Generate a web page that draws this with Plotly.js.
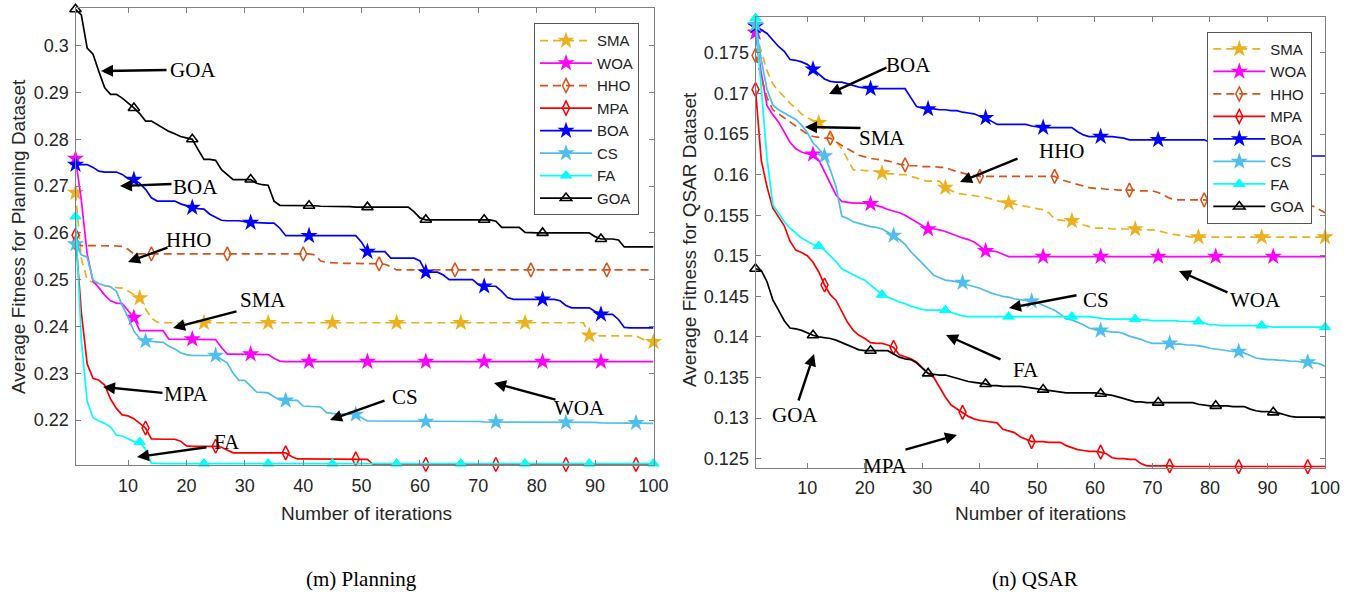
<!DOCTYPE html>
<html><head><meta charset="utf-8">
<script src="https://cdn.plot.ly/plotly-3.0.1.min.js"></script>
<style>html,body{margin:0;padding:0;background:#fff}#chart{width:1358px;height:596px}</style>
</head><body><div id="chart"></div>
<script>
// ---------------- DATA ----------------
const algorithms = ['SMA','WOA','HHO','MPA','BOA','CS','FA','GOA'];
const iterations = [1,2,3,4,5,6,7,8,9,10,11,12,13,14,15,16,17,18,19,20,21,22,23,24,25,26,27,28,29,30,31,32,33,34,35,36,37,38,39,40,41,42,43,44,45,46,47,48,49,50,51,52,53,54,55,56,57,58,59,60,61,62,63,64,65,66,67,68,69,70,71,72,73,74,75,76,77,78,79,80,81,82,83,84,85,86,87,88,89,90,91,92,93,94,95,96,97,98,99,100];
const xTickVals = [10,20,30,40,50,60,70,80,90,100];
const planningTickVals = [0.22,0.23,0.24,0.25,0.26,0.27,0.28,0.29,0.3];
const planningTickText = ['0.22','0.23','0.24','0.25','0.26','0.27','0.28','0.29','0.3'];
const qsarTickVals = [0.125,0.13,0.135,0.14,0.145,0.15,0.155,0.16,0.165,0.17,0.175];
const qsarTickText = ['0.125','0.13','0.135','0.14','0.145','0.15','0.155','0.16','0.165','0.17','0.175'];

// (m) Planning
const planningSMA = [
0.2686,0.2545,0.2500,0.2494,0.2490,0.2487,0.2485,0.2483,0.2482,0.2476,
0.2468,0.2461,0.2438,0.2418,0.2409,0.2408,0.2408,0.2408,0.2408,0.2408,
0.2408,0.2408,0.2408,0.2408,0.2408,0.2408,0.2408,0.2408,0.2408,0.2408,
0.2408,0.2408,0.2408,0.2408,0.2408,0.2408,0.2408,0.2408,0.2408,0.2408,
0.2408,0.2408,0.2408,0.2408,0.2408,0.2408,0.2408,0.2408,0.2408,0.2408,
0.2408,0.2408,0.2408,0.2408,0.2408,0.2408,0.2408,0.2408,0.2408,0.2408,
0.2408,0.2408,0.2408,0.2408,0.2408,0.2408,0.2408,0.2408,0.2408,0.2408,
0.2408,0.2408,0.2408,0.2408,0.2408,0.2408,0.2408,0.2408,0.2408,0.2408,
0.2408,0.2408,0.2408,0.2408,0.2408,0.2408,0.2408,0.2408,0.2381,0.2380,
0.2380,0.2380,0.2380,0.2380,0.2380,0.2380,0.2380,0.2374,0.2369,0.2367];
const planningWOA = [
0.2759,0.2670,0.2555,0.2497,0.2483,0.2467,0.2455,0.2450,0.2449,0.2433,
0.2419,0.2391,0.2391,0.2391,0.2391,0.2391,0.2373,0.2373,0.2373,0.2373,
0.2373,0.2373,0.2372,0.2372,0.2372,0.2355,0.2341,0.2341,0.2341,0.2341,
0.2341,0.2341,0.2340,0.2340,0.2332,0.2326,0.2325,0.2325,0.2325,0.2325,
0.2325,0.2325,0.2325,0.2325,0.2325,0.2325,0.2325,0.2325,0.2325,0.2325,
0.2325,0.2325,0.2325,0.2325,0.2325,0.2325,0.2325,0.2325,0.2325,0.2325,
0.2325,0.2325,0.2325,0.2325,0.2325,0.2325,0.2325,0.2325,0.2325,0.2325,
0.2325,0.2325,0.2325,0.2325,0.2325,0.2325,0.2325,0.2325,0.2325,0.2325,
0.2325,0.2325,0.2325,0.2325,0.2325,0.2325,0.2325,0.2325,0.2325,0.2325,
0.2325,0.2325,0.2325,0.2325,0.2325,0.2325,0.2325,0.2325,0.2325,0.2325];
const planningHHO = [
0.2578,0.2573,0.2573,0.2573,0.2573,0.2572,0.2572,0.2572,0.2571,0.2565,
0.2555,0.2555,0.2555,0.2555,0.2555,0.2555,0.2555,0.2555,0.2555,0.2555,
0.2555,0.2555,0.2555,0.2555,0.2555,0.2555,0.2555,0.2555,0.2555,0.2555,
0.2555,0.2555,0.2555,0.2555,0.2555,0.2555,0.2555,0.2555,0.2555,0.2555,
0.2555,0.2553,0.2540,0.2537,0.2536,0.2536,0.2535,0.2535,0.2535,0.2534,
0.2534,0.2534,0.2534,0.2533,0.2528,0.2521,0.2521,0.2521,0.2521,0.2521,
0.2521,0.2521,0.2521,0.2521,0.2521,0.2521,0.2521,0.2521,0.2521,0.2521,
0.2521,0.2521,0.2521,0.2521,0.2521,0.2521,0.2521,0.2521,0.2521,0.2521,
0.2521,0.2521,0.2521,0.2521,0.2521,0.2521,0.2521,0.2521,0.2521,0.2521,
0.2521,0.2521,0.2521,0.2521,0.2521,0.2521,0.2521,0.2521,0.2521,0.2521];
const planningMPA = [
0.2595,0.2430,0.2320,0.2289,0.2285,0.2275,0.2245,0.2225,0.2211,0.2209,
0.2203,0.2194,0.2183,0.2160,0.2159,0.2159,0.2159,0.2159,0.2155,0.2145,
0.2144,0.2144,0.2144,0.2144,0.2144,0.2142,0.2136,0.2130,0.2130,0.2130,
0.2130,0.2130,0.2130,0.2130,0.2130,0.2130,0.2130,0.2122,0.2117,0.2117,
0.2117,0.2117,0.2117,0.2117,0.2117,0.2117,0.2117,0.2117,0.2117,0.2117,
0.2116,0.2105,0.2105,0.2105,0.2105,0.2105,0.2105,0.2105,0.2105,0.2105,
0.2105,0.2105,0.2105,0.2105,0.2105,0.2105,0.2105,0.2105,0.2105,0.2105,
0.2105,0.2105,0.2105,0.2105,0.2105,0.2105,0.2105,0.2105,0.2105,0.2105,
0.2105,0.2105,0.2105,0.2105,0.2105,0.2105,0.2105,0.2105,0.2105,0.2105,
0.2105,0.2105,0.2105,0.2105,0.2105,0.2105,0.2105,0.2105,0.2105,0.2105];
const planningBOA = [
0.2746,0.2746,0.2746,0.2740,0.2732,0.2730,0.2730,0.2730,0.2725,0.2716,
0.2714,0.2706,0.2693,0.2675,0.2668,0.2668,0.2668,0.2668,0.2662,0.2658,
0.2654,0.2652,0.2651,0.2640,0.2633,0.2627,0.2626,0.2626,0.2626,0.2624,
0.2622,0.2622,0.2621,0.2621,0.2621,0.2610,0.2594,0.2594,0.2594,0.2594,
0.2594,0.2594,0.2594,0.2594,0.2594,0.2594,0.2594,0.2594,0.2594,0.2580,
0.2560,0.2560,0.2560,0.2560,0.2546,0.2546,0.2546,0.2546,0.2546,0.2540,
0.2516,0.2516,0.2516,0.2510,0.2500,0.2500,0.2500,0.2500,0.2500,0.2490,
0.2486,0.2486,0.2486,0.2475,0.2462,0.2458,0.2458,0.2458,0.2458,0.2458,
0.2458,0.2458,0.2458,0.2455,0.2445,0.2440,0.2440,0.2440,0.2440,0.2432,
0.2426,0.2426,0.2426,0.2415,0.2398,0.2397,0.2397,0.2397,0.2397,0.2397];
const planningCS = [
0.2576,0.2553,0.2548,0.2499,0.2492,0.2487,0.2485,0.2475,0.2445,0.2420,
0.2390,0.2375,0.2369,0.2368,0.2367,0.2366,0.2358,0.2352,0.2344,0.2340,
0.2338,0.2338,0.2338,0.2338,0.2338,0.2330,0.2322,0.2300,0.2285,0.2285,
0.2272,0.2260,0.2259,0.2258,0.2250,0.2243,0.2242,0.2242,0.2242,0.2230,
0.2229,0.2228,0.2228,0.2216,0.2214,0.2213,0.2213,0.2213,0.2212,0.2205,
0.2198,0.2198,0.2198,0.2197,0.2197,0.2197,0.2197,0.2197,0.2197,0.2197,
0.2197,0.2197,0.2197,0.2197,0.2197,0.2197,0.2197,0.2197,0.2197,0.2197,
0.2196,0.2196,0.2196,0.2196,0.2196,0.2196,0.2196,0.2196,0.2196,0.2196,
0.2195,0.2195,0.2195,0.2195,0.2195,0.2195,0.2195,0.2195,0.2195,0.2195,
0.2194,0.2194,0.2194,0.2194,0.2194,0.2194,0.2194,0.2194,0.2194,0.2193];
const planningFA = [
0.2635,0.2370,0.2240,0.2205,0.2198,0.2193,0.2185,0.2168,0.2166,0.2160,
0.2154,0.2153,0.2138,0.2108,0.2107,0.2107,0.2107,0.2107,0.2107,0.2107,
0.2107,0.2107,0.2107,0.2107,0.2107,0.2107,0.2107,0.2107,0.2107,0.2107,
0.2107,0.2107,0.2107,0.2107,0.2107,0.2107,0.2107,0.2107,0.2107,0.2107,
0.2107,0.2107,0.2107,0.2107,0.2107,0.2107,0.2107,0.2107,0.2107,0.2107,
0.2107,0.2107,0.2107,0.2107,0.2107,0.2107,0.2107,0.2107,0.2107,0.2107,
0.2107,0.2107,0.2107,0.2107,0.2107,0.2107,0.2107,0.2107,0.2107,0.2107,
0.2107,0.2107,0.2107,0.2107,0.2107,0.2107,0.2107,0.2107,0.2107,0.2107,
0.2107,0.2107,0.2107,0.2107,0.2107,0.2107,0.2107,0.2107,0.2107,0.2107,
0.2107,0.2107,0.2107,0.2107,0.2107,0.2107,0.2107,0.2107,0.2107,0.2107];
const planningGOA = [
0.3078,0.3066,0.2995,0.2982,0.2945,0.2910,0.2896,0.2896,0.2888,0.2878,
0.2867,0.2855,0.2839,0.2839,0.2832,0.2824,0.2817,0.2812,0.2806,0.2803,
0.2800,0.2778,0.2757,0.2757,0.2755,0.2735,0.2725,0.2714,0.2714,0.2714,
0.2714,0.2706,0.2703,0.2702,0.2668,0.2659,0.2659,0.2658,0.2658,0.2658,
0.2658,0.2658,0.2657,0.2657,0.2657,0.2656,0.2656,0.2656,0.2655,0.2655,
0.2655,0.2655,0.2655,0.2655,0.2655,0.2655,0.2655,0.2655,0.2645,0.2632,
0.2628,0.2628,0.2628,0.2628,0.2628,0.2628,0.2628,0.2628,0.2628,0.2628,
0.2628,0.2628,0.2625,0.2612,0.2612,0.2612,0.2612,0.2601,0.2600,0.2600,
0.2600,0.2600,0.2600,0.2600,0.2600,0.2600,0.2600,0.2600,0.2600,0.2592,
0.2587,0.2587,0.2587,0.2585,0.2570,0.2570,0.2570,0.2570,0.2570,0.2570];

// (n) QSAR
const qsarSMA = [
0.1776,0.1752,0.1728,0.1712,0.1703,0.1696,0.1688,0.1682,0.1675,0.1670,
0.1667,0.1664,0.1658,0.1650,0.1641,0.1632,0.1618,0.1606,0.1606,0.1605,
0.1605,0.1604,0.1602,0.1601,0.1601,0.1600,0.1600,0.1598,0.1596,0.1593,
0.1592,0.1592,0.1592,0.1584,0.1580,0.1577,0.1576,0.1575,0.1574,0.1573,
0.1572,0.1570,0.1568,0.1566,0.1565,0.1564,0.1562,0.1561,0.1559,0.1558,
0.1557,0.1553,0.1545,0.1544,0.1543,0.1543,0.1541,0.1538,0.1536,0.1534,
0.1534,0.1534,0.1533,0.1533,0.1533,0.1533,0.1533,0.1532,0.1532,0.1532,
0.1531,0.1529,0.1527,0.1526,0.1525,0.1524,0.1523,0.1523,0.1523,0.1523,
0.1523,0.1523,0.1523,0.1523,0.1523,0.1523,0.1523,0.1523,0.1523,0.1523,
0.1523,0.1523,0.1523,0.1523,0.1523,0.1523,0.1523,0.1523,0.1523,0.1523];
const qsarWOA = [
0.1775,0.1725,0.1685,0.1674,0.1665,0.1652,0.1640,0.1632,0.1628,0.1626,
0.1625,0.1618,0.1603,0.1590,0.1575,0.1567,0.1566,0.1565,0.1565,0.1565,
0.1564,0.1562,0.1560,0.1557,0.1555,0.1553,0.1550,0.1546,0.1542,0.1537,
0.1533,0.1533,0.1532,0.1530,0.1527,0.1524,0.1522,0.1520,0.1517,0.1512,
0.1506,0.1506,0.1505,0.1502,0.1499,0.1499,0.1499,0.1499,0.1499,0.1499,
0.1499,0.1499,0.1499,0.1499,0.1499,0.1499,0.1499,0.1499,0.1499,0.1499,
0.1499,0.1499,0.1499,0.1499,0.1499,0.1499,0.1499,0.1499,0.1499,0.1499,
0.1499,0.1499,0.1499,0.1499,0.1499,0.1499,0.1499,0.1499,0.1499,0.1499,
0.1499,0.1499,0.1499,0.1499,0.1499,0.1499,0.1499,0.1499,0.1499,0.1499,
0.1499,0.1499,0.1499,0.1499,0.1499,0.1499,0.1499,0.1499,0.1499,0.1499];
const qsarHHO = [
0.1747,0.1722,0.1695,0.1680,0.1675,0.1670,0.1665,0.1661,0.1656,0.1650,
0.1647,0.1646,0.1645,0.1645,0.1640,0.1636,0.1632,0.1628,0.1624,0.1622,
0.1620,0.1619,0.1618,0.1617,0.1615,0.1613,0.1612,0.1611,0.1611,0.1610,
0.1610,0.1610,0.1609,0.1609,0.1606,0.1604,0.1602,0.1600,0.1599,0.1598,
0.1598,0.1598,0.1598,0.1598,0.1598,0.1598,0.1598,0.1598,0.1598,0.1598,
0.1598,0.1598,0.1598,0.1594,0.1592,0.1590,0.1588,0.1586,0.1584,0.1583,
0.1583,0.1582,0.1582,0.1581,0.1581,0.1581,0.1581,0.1580,0.1580,0.1580,
0.1578,0.1574,0.1571,0.1569,0.1569,0.1569,0.1569,0.1569,0.1569,0.1568,
0.1568,0.1568,0.1568,0.1568,0.1568,0.1568,0.1568,0.1568,0.1568,0.1568,
0.1567,0.1567,0.1566,0.1565,0.1564,0.1563,0.1562,0.1561,0.1557,0.1553];
const qsarMPA = [
0.1705,0.1618,0.1585,0.1559,0.1548,0.1537,0.1518,0.1507,0.1504,0.1500,
0.1492,0.1480,0.1464,0.1452,0.1445,0.1432,0.1418,0.1408,0.1402,0.1398,
0.1393,0.1392,0.1392,0.1390,0.1387,0.1378,0.1375,0.1373,0.1369,0.1362,
0.1355,0.1350,0.1338,0.1326,0.1316,0.1311,0.1307,0.1302,0.1299,0.1297,
0.1296,0.1295,0.1294,0.1286,0.1284,0.1282,0.1277,0.1274,0.1271,0.1271,
0.1271,0.1270,0.1270,0.1270,0.1266,0.1263,0.1261,0.1260,0.1259,0.1259,
0.1258,0.1256,0.1251,0.1250,0.1250,0.1249,0.1249,0.1244,0.1241,0.1241,
0.1241,0.1241,0.1241,0.1240,0.1240,0.1240,0.1240,0.1240,0.1240,0.1240,
0.1240,0.1240,0.1240,0.1240,0.1240,0.1240,0.1240,0.1240,0.1240,0.1240,
0.1240,0.1240,0.1240,0.1240,0.1240,0.1240,0.1240,0.1240,0.1240,0.1240];
const qsarBOA = [
0.1783,0.1779,0.1774,0.1766,0.1758,0.1752,0.1742,0.1741,0.1739,0.1736,
0.1730,0.1724,0.1718,0.1715,0.1714,0.1714,0.1712,0.1710,0.1708,0.1707,
0.1706,0.1706,0.1706,0.1706,0.1706,0.1706,0.1706,0.1695,0.1684,0.1682,
0.1681,0.1681,0.1680,0.1680,0.1679,0.1679,0.1677,0.1676,0.1675,0.1672,
0.1670,0.1666,0.1662,0.1662,0.1662,0.1662,0.1662,0.1662,0.1660,0.1659,
0.1658,0.1658,0.1658,0.1658,0.1658,0.1658,0.1653,0.1649,0.1647,0.1647,
0.1647,0.1647,0.1647,0.1646,0.1645,0.1643,0.1643,0.1643,0.1643,0.1643,
0.1643,0.1643,0.1643,0.1643,0.1643,0.1643,0.1643,0.1643,0.1643,0.1640,
0.1636,0.1635,0.1633,0.1632,0.1630,0.1628,0.1627,0.1626,0.1625,0.1625,
0.1625,0.1624,0.1624,0.1624,0.1623,0.1623,0.1623,0.1623,0.1623,0.1623];
const qsarCS = [
0.1785,0.1742,0.1705,0.1686,0.1680,0.1676,0.1672,0.1668,0.1661,0.1652,
0.1639,0.1632,0.1623,0.1606,0.1585,0.1549,0.1546,0.1542,0.1540,0.1538,
0.1536,0.1535,0.1533,0.1529,0.1525,0.1520,0.1514,0.1505,0.1498,0.1491,
0.1483,0.1476,0.1473,0.1470,0.1469,0.1468,0.1467,0.1464,0.1462,0.1460,
0.1457,0.1454,0.1452,0.1450,0.1449,0.1447,0.1446,0.1445,0.1444,0.1442,
0.1439,0.1436,0.1433,0.1428,0.1422,0.1421,0.1418,0.1415,0.1411,0.1409,
0.1408,0.1407,0.1406,0.1406,0.1404,0.1401,0.1399,0.1397,0.1394,0.1392,
0.1392,0.1392,0.1392,0.1391,0.1391,0.1390,0.1390,0.1389,0.1388,0.1386,
0.1385,0.1384,0.1383,0.1382,0.1382,0.1380,0.1377,0.1374,0.1373,0.1372,
0.1372,0.1371,0.1371,0.1370,0.1370,0.1369,0.1369,0.1368,0.1367,0.1364];
const qsarFA = [
0.1793,0.1710,0.1620,0.1563,0.1552,0.1542,0.1534,0.1528,0.1522,0.1518,
0.1514,0.1512,0.1507,0.1500,0.1493,0.1484,0.1480,0.1476,0.1473,0.1470,
0.1464,0.1458,0.1452,0.1449,0.1446,0.1443,0.1441,0.1438,0.1436,0.1434,
0.1433,0.1433,0.1433,0.1433,0.1430,0.1428,0.1426,0.1425,0.1425,0.1425,
0.1425,0.1425,0.1425,0.1425,0.1425,0.1425,0.1425,0.1425,0.1425,0.1425,
0.1425,0.1425,0.1425,0.1425,0.1425,0.1425,0.1425,0.1425,0.1425,0.1424,
0.1423,0.1422,0.1422,0.1422,0.1422,0.1422,0.1422,0.1421,0.1421,0.1420,
0.1420,0.1420,0.1420,0.1420,0.1419,0.1419,0.1419,0.1419,0.1417,0.1415,
0.1415,0.1414,0.1414,0.1414,0.1414,0.1414,0.1414,0.1414,0.1414,0.1413,
0.1412,0.1412,0.1412,0.1412,0.1412,0.1412,0.1412,0.1412,0.1412,0.1412];
const qsarGOA = [
0.1484,0.1482,0.1468,0.1446,0.1433,0.1420,0.1411,0.1410,0.1408,0.1405,
0.1402,0.1400,0.1399,0.1398,0.1396,0.1393,0.1390,0.1387,0.1384,0.1383,
0.1383,0.1383,0.1383,0.1383,0.1379,0.1375,0.1373,0.1372,0.1368,0.1361,
0.1355,0.1354,0.1353,0.1353,0.1351,0.1349,0.1347,0.1345,0.1344,0.1343,
0.1342,0.1340,0.1340,0.1339,0.1339,0.1339,0.1339,0.1338,0.1337,0.1336,
0.1335,0.1334,0.1333,0.1332,0.1331,0.1331,0.1331,0.1331,0.1331,0.1331,
0.1330,0.1329,0.1328,0.1326,0.1324,0.1322,0.1320,0.1320,0.1319,0.1319,
0.1319,0.1319,0.1319,0.1319,0.1319,0.1319,0.1319,0.1317,0.1316,0.1315,
0.1315,0.1315,0.1315,0.1314,0.1314,0.1314,0.1311,0.1309,0.1308,0.1308,
0.1307,0.1306,0.1304,0.1302,0.1301,0.1301,0.1301,0.1301,0.1301,0.1301];

const planningSeries = {SMA:planningSMA, WOA:planningWOA, HHO:planningHHO, MPA:planningMPA, BOA:planningBOA, CS:planningCS, FA:planningFA, GOA:planningGOA};
const qsarSeries = {SMA:qsarSMA, WOA:qsarWOA, HHO:qsarHHO, MPA:qsarMPA, BOA:qsarBOA, CS:qsarCS, FA:qsarFA, GOA:qsarGOA};

// ---------------- STYLE ----------------
const dashed = '8px,5px';
const styles = {
  SMA:{color:'#EDB120', dash:dashed, symbol:'star', fill:'#EDB120', size:13, lw:0, step:11},
  WOA:{color:'#FF00FF', dash:'solid', symbol:'star', fill:'#FF00FF', size:13, lw:0, step:10},
  HHO:{color:'#D95319', dash:dashed, symbol:'diamond-tall-open', fill:'#D95319', size:10, lw:1.5, step:13},
  MPA:{color:'#FF0000', dash:'solid', symbol:'diamond-tall-open', fill:'#FF0000', size:10, lw:1.5, step:12},
  BOA:{color:'#0000FF', dash:'solid', symbol:'star', fill:'#0000FF', size:13, lw:0, step:10},
  CS:{color:'#4DBEEE', dash:'solid', symbol:'star', fill:'#4DBEEE', size:13, lw:0, step:12},
  FA:{color:'#00FFFF', dash:'solid', symbol:'triangle-up', fill:'#00FFFF', size:10, lw:1, step:11},
  GOA:{color:'#000000', dash:'solid', symbol:'triangle-up-open', fill:'#000000', size:10, lw:1.6, step:10}
};

const traces = [];
function addSeries(name, yvals, xa, ya, legendId) {
  const st = styles[name];
  const line = {color:st.color, width:1.7, dash:st.dash};
  const marker = {symbol:st.symbol, size:st.size, color:st.fill, line:{color:st.color, width:st.lw}};
  traces.push({x:iterations, y:yvals, xaxis:xa, yaxis:ya, mode:'lines', line:line, showlegend:false, hoverinfo:'skip'});
  const mx = [], my = [];
  for (let i = 0; i < yvals.length; i += st.step) { mx.push(iterations[i]); my.push(yvals[i]); }
  traces.push({x:mx, y:my, xaxis:xa, yaxis:ya, mode:'markers', marker:marker, showlegend:false, cliponaxis:false, hoverinfo:'skip'});
  traces.push({x:[null], y:[null], xaxis:xa, yaxis:ya, mode:'lines+markers', name:name, legend:legendId, line:line, marker:marker});
}
algorithms.forEach(a => addSeries(a, planningSeries[a], 'x', 'y', 'legend'));
algorithms.forEach(a => addSeries(a, qsarSeries[a], 'x2', 'y2', 'legend2'));

const W = 1358, H = 596;
const px = v => v / W, py = v => 1 - v / H;
const sans = 'Liberation Sans, Arial, sans-serif';
const serif = 'Liberation Serif, Times New Roman, serif';
const axisBase = {showline:true, linecolor:'#808080', linewidth:1, mirror:'ticks', ticks:'inside', ticklen:5,
  tickcolor:'#808080', tickwidth:1, showgrid:false, zeroline:false,
  tickfont:{family:sans, size:18, color:'#262626'}};

// arrow annotations: [label, headX, headY, tailX, tailY, textX, textY] in page pixels
const arrowNotes = [
  ['GOA',101,71,168,70,193,70],
  ['BOA',120,186,173,184,196,187],
  ['HHO',128,262,169,247,189,240],
  ['SMA',173,328,238,311,263,300],
  ['MPA',103,387,164,393,186,394],
  ['CS',330,420,386,400,405,397],
  ['WOA',494,383,557,400,579,408],
  ['FA',137,457,208,447,227,442],
  ['BOA',829,94,888,67,909,65],
  ['SMA',805,127,862,128,882,138],
  ['HHO',960,182,1019,158,1062,151],
  ['WOA',1179,271,1229,293,1255,300],
  ['CS',1009,308,1078,295,1096,300],
  ['FA',946,335,1002,360,1026,370],
  ['GOA',814,354,798,402,795,415],
  ['MPA',957,435,904,450,885,466]
];
const annotations = [];
arrowNotes.forEach(n => {
  annotations.push({xref:'paper', yref:'paper', x:px(n[1]), y:py(n[2]), ax:n[3]-n[1], ay:n[4]-n[2], text:'',
    showarrow:true, arrowhead:2, arrowsize:1, arrowwidth:2.4, arrowcolor:'#000', standoff:0, startstandoff:0});
  annotations.push({xref:'paper', yref:'paper', x:px(n[5]), y:py(n[6]), text:n[0], showarrow:false,
    xanchor:'center', yanchor:'middle', font:{family:serif, size:21, color:'#000'}});
});
// axis titles and captions
annotations.push({xref:'paper', yref:'paper', x:px(366), y:py(513), text:'Number of iterations', showarrow:false, xanchor:'center', yanchor:'middle', font:{family:sans, size:19, color:'#262626'}});
annotations.push({xref:'paper', yref:'paper', x:px(1040), y:py(513), text:'Number of iterations', showarrow:false, xanchor:'center', yanchor:'middle', font:{family:sans, size:19, color:'#262626'}});
annotations.push({xref:'paper', yref:'paper', x:px(18), y:py(237), text:'Average Fitness for Planning Dataset', textangle:-90, showarrow:false, xanchor:'center', yanchor:'middle', font:{family:sans, size:19, color:'#262626'}});
annotations.push({xref:'paper', yref:'paper', x:px(690), y:py(240), text:'Average Fitness for QSAR Dataset', textangle:-90, showarrow:false, xanchor:'center', yanchor:'middle', font:{family:sans, size:19, color:'#262626'}});
annotations.push({xref:'paper', yref:'paper', x:px(361), y:py(579), text:'(m) Planning', showarrow:false, xanchor:'center', yanchor:'middle', font:{family:serif, size:21, color:'#000'}});
annotations.push({xref:'paper', yref:'paper', x:px(1035), y:py(579), text:'(n) QSAR', showarrow:false, xanchor:'center', yanchor:'middle', font:{family:serif, size:21, color:'#000'}});

const legendBase = {xanchor:'left', yanchor:'top', bgcolor:'#ffffff', bordercolor:'#555555', borderwidth:1,
  font:{family:sans, size:15, color:'#222'}, itemwidth:52, tracegroupgap:0, traceorder:'normal'};

const xExtra = {range:[1,100], tickvals:xTickVals, ticklabelstandoff:4};
const layout = {
  width:W, height:H, margin:{l:0, r:0, t:0, b:0}, paper_bgcolor:'#fff', plot_bgcolor:'#fff',
  showlegend:true, hovermode:false,
  xaxis:Object.assign({}, axisBase, xExtra, {domain:[px(75.5), px(653.5)], anchor:'y'}),
  yaxis:Object.assign({}, axisBase, {domain:[py(465), py(8.3)], range:[0.2104,0.308], tickvals:planningTickVals, ticktext:planningTickText, anchor:'x', ticklabelstandoff:2}),
  xaxis2:Object.assign({}, axisBase, xExtra, {domain:[px(755.5), px(1325)], anchor:'y2'}),
  yaxis2:Object.assign({}, axisBase, {domain:[py(467.5), py(17.3)], range:[0.1239,0.1794], tickvals:qsarTickVals, ticktext:qsarTickText, anchor:'x2', ticklabelstandoff:2}),
  legend:Object.assign({}, legendBase, {x:px(534), y:py(23.3)}),
  legend2:Object.assign({}, legendBase, {x:px(1207.3), y:py(31.7)}),
  annotations:annotations
};

Plotly.newPlot('chart', traces, layout, {staticPlot:true, displayModeBar:false});
</script>
</body></html>
